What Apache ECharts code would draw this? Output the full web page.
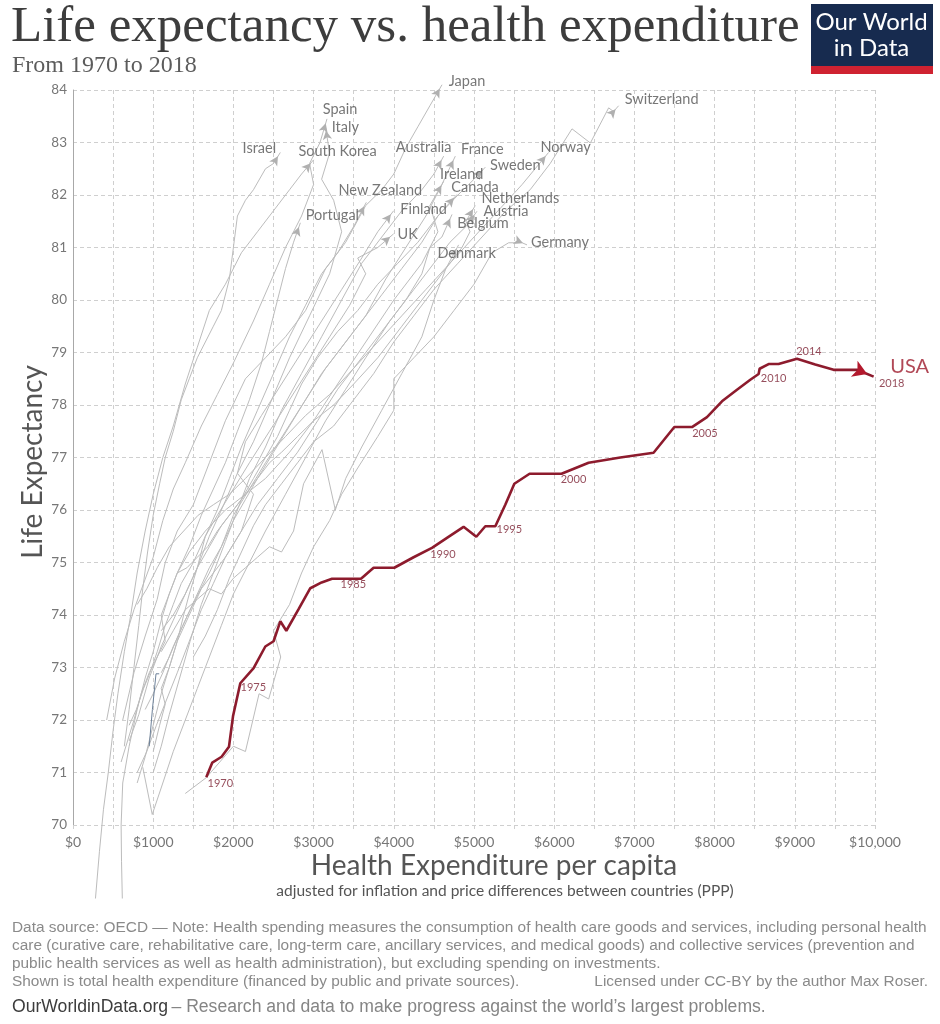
<!DOCTYPE html>
<html>
<head>
  <meta charset="UTF-8">
  <title>Life expectancy vs. health expenditure</title>
  <script src="https://cdn.jsdelivr.net/npm/echarts@6/dist/echarts.min.js"></script>
  <style>
    body { margin: 0; padding: 0; background: #fff; }
    #chart { width: 940px; height: 1024px; }
  </style>
</head>
<body>
  <div id="chart"></div>
  <script>
    // ---- data ----
    // USA, one point per year
    var usaYears = [1970, 1971, 1972, 1973, 1974, 1975, 1976, 1977, 1978, 1979, 1980, 1981, 1982, 1983, 1984, 1985, 1986, 1987, 1988, 1989,
      1990, 1991, 1992, 1993, 1994, 1995, 1996, 1997, 1998, 1999, 2000, 2001, 2002, 2003, 2004, 2005, 2006, 2007, 2008, 2009,
      2010, 2011, 2012, 2013, 2014, 2015, 2016, 2017, 2018];
    var usaSpend = [1662, 1737, 1853, 1945, 1995, 2086, 2252, 2398, 2501, 2585, 2660, 2813, 2959, 3100, 3230, 3333, 3591, 3748, 4006, 4247,
      4476, 4663, 4870, 5029, 5141, 5266, 5390, 5503, 5693, 5889, 6091, 6429, 6824, 7239, 7498, 7718, 7905, 8092, 8279, 8445,
      8549, 8561, 8673, 8798, 9027, 9255, 9484, 9776, 9983];
    var usaLife = [70.91, 71.19, 71.30, 71.49, 72.07, 72.70, 72.99, 73.40, 73.50, 73.88, 73.70, 74.11, 74.51, 74.62, 74.69, 74.69, 74.69, 74.90, 74.90, 75.10,
      75.28, 75.47, 75.68, 75.49, 75.69, 75.69, 76.10, 76.50, 76.69, 76.69, 76.69, 76.90, 77.00, 77.09, 77.58, 77.58, 77.77, 78.07, 78.29, 78.48,
      78.59, 78.69, 78.78, 78.78, 78.88, 78.77, 78.67, 78.67, 78.54];
    var usaLabelYears = [1970, 1975, 1985, 1990, 1995, 2000, 2005, 2010, 2014, 2018];

    // other OECD countries (spend in $, life expectancy in years)
    var japanX = [620, 760, 900, 1050, 1150, 1300, 1500, 1700, 1900, 2150, 2400, 2650, 2900, 3150, 3400, 3650, 3850, 4000, 4150, 4300, 4450, 4601];
    var japanY = [72.0, 72.9, 73.6, 74.3, 75.0, 75.6, 76.1, 76.9, 77.7, 78.5, 78.9, 79.3, 79.8, 80.6, 81.1, 81.8, 82.1, 82.4, 82.9, 83.3, 83.7, 84.1];
    var spainX = [420, 520, 640, 760, 880, 1000, 1120, 1250, 1400, 1600, 1800, 2000, 2250, 2450, 2650, 2850, 3000, 2950, 3080, 3167];
    var spainY = [72.0, 72.8, 73.5, 74.1, 74.6, 75.1, 75.8, 76.4, 76.9, 77.6, 78.2, 78.8, 79.6, 80.3, 81.0, 81.6, 82.2, 82.6, 83.0, 83.45];
    var italyX = [700, 820, 950, 1100, 1250, 1400, 1550, 1700, 1850, 2050, 2250, 2450, 2700, 2950, 3200, 3350, 3250, 3100, 3200, 3146];
    var italyY = [71.6, 72.1, 72.8, 73.4, 73.9, 74.4, 74.9, 75.5, 76.0, 76.7, 77.3, 78.0, 78.9, 79.7, 80.5, 81.3, 81.9, 82.3, 82.8, 83.31];
    var israelX = [640, 700, 760, 820, 870, 930, 1000, 1080, 1150, 1250, 1350, 1450, 1550, 1650, 1750, 1850, 1950, 2000, 2050, 2150, 2250, 2400, 2500, 2585];
    var israelY = [71.5, 72.2, 73.0, 73.8, 74.5, 75.2, 75.9, 76.5, 77.0, 77.5, 78.1, 78.5, 78.9, 79.2, 79.5, 79.8, 80.4, 81.0, 81.6, 81.9, 82.1, 82.5, 82.6, 82.81];
    var koreaX = [280, 330, 380, 440, 500, 560, 640, 720, 800, 900, 1000, 1120, 1250, 1400, 1550, 1700, 1900, 2100, 2300, 2500, 2700, 2850, 3000];
    var koreaY = [68.6, 69.5, 70.3, 71.0, 71.8, 72.5, 73.3, 74.0, 74.8, 75.6, 76.3, 77.0, 77.6, 78.4, 79.1, 79.8, 80.3, 80.9, 81.3, 81.7, 82.1, 82.4, 82.67];
    var portugalX = [615, 605, 600, 620, 700, 800, 900, 1000, 1100, 1200, 1300, 1450, 1600, 1750, 1900, 2050, 2200, 2350, 2450, 2550, 2650, 2750, 2835];
    var portugalY = [68.6, 69.3, 70.0, 70.8, 71.5, 72.2, 72.8, 73.3, 73.9, 74.4, 74.8, 75.3, 75.9, 76.4, 76.9, 77.5, 78.1, 78.8, 79.4, 80.0, 80.6, 81.1, 81.47];
    var newZealandX = [1000, 1080, 1150, 1100, 1200, 1300, 1380, 1450, 1550, 1650, 1800, 1950, 2100, 2300, 2500, 2700, 2900, 3100, 3300, 3500, 3657];
    var newZealandY = [71.4, 71.9, 72.3, 72.6, 73.0, 73.5, 74.0, 74.4, 74.9, 75.5, 76.0, 76.6, 77.2, 77.9, 78.6, 79.3, 79.9, 80.5, 80.9, 81.4, 81.86];
    var ukX = [700, 790, 880, 960, 1050, 1150, 1250, 1350, 1500, 1650, 1800, 2000, 2200, 2450, 2700, 2950, 3200, 3450, 3650, 3550, 3800, 3998];
    var ukY = [71.9, 72.2, 72.6, 72.9, 73.3, 73.8, 74.2, 74.6, 75.0, 75.5, 75.9, 76.4, 76.9, 77.5, 78.1, 78.7, 79.3, 79.9, 80.5, 80.8, 81.0, 81.26];
    var finlandX = [800, 900, 1000, 1100, 1200, 1300, 1450, 1600, 1750, 1900, 2100, 2250, 2050, 2150, 2350, 2600, 2850, 3100, 3350, 3600, 3800, 3998];
    var finlandY = [70.8, 71.3, 71.9, 72.5, 73.0, 73.5, 74.0, 74.5, 74.8, 75.1, 75.6, 76.3, 76.7, 77.3, 77.8, 78.4, 79.0, 79.6, 80.2, 80.8, 81.3, 81.70];
    var australiaX = [1000, 1100, 1200, 1330, 1460, 1600, 1750, 1900, 2050, 2200, 2400, 2600, 2850, 3100, 3350, 3600, 3850, 4100, 4350, 4500, 4622];
    var australiaY = [71.0, 71.5, 72.1, 72.8, 73.5, 74.2, 74.8, 75.4, 76.0, 76.6, 77.2, 77.9, 78.6, 79.3, 80.0, 80.7, 81.2, 81.7, 82.1, 82.4, 82.74];
    var franceX = [900, 1000, 1120, 1250, 1400, 1550, 1700, 1850, 2000, 2200, 2400, 2650, 2900, 3150, 3400, 3650, 3900, 4150, 4400, 4600, 4767];
    var franceY = [72.2, 72.5, 72.9, 73.4, 73.9, 74.4, 74.9, 75.3, 75.9, 76.4, 76.9, 77.5, 78.1, 78.7, 79.2, 79.7, 80.4, 81.0, 81.6, 82.2, 82.74];
    var irelandX = [600, 680, 760, 850, 950, 1050, 1150, 1100, 1200, 1300, 1450, 1650, 1900, 2150, 2400, 2700, 3000, 3300, 3650, 4000, 4350, 4550, 4450, 4622];
    var irelandY = [71.2, 71.6, 72.0, 72.5, 72.9, 73.2, 73.5, 74.0, 74.4, 74.8, 75.2, 75.6, 76.0, 76.3, 76.6, 77.1, 77.7, 78.4, 79.2, 80.0, 80.7, 81.3, 81.8, 82.26];
    var canadaX = [1100, 1200, 1310, 1430, 1560, 1700, 1850, 2000, 2150, 2300, 2500, 2700, 2900, 3100, 3350, 3600, 3850, 4100, 4350, 4550, 4788];
    var canadaY = [72.9, 73.2, 73.6, 74.0, 74.4, 74.8, 75.3, 75.8, 76.2, 76.6, 77.1, 77.6, 78.1, 78.6, 79.1, 79.6, 80.1, 80.6, 81.1, 81.6, 82.01];
    var swedenX = [1300, 1420, 1550, 1680, 1800, 1950, 2100, 2250, 2400, 2550, 2700, 2850, 3050, 3300, 3550, 3800, 4050, 4300, 4550, 4800, 5000, 5141];
    var swedenY = [74.8, 74.9, 75.1, 75.3, 75.6, 75.9, 76.2, 76.6, 77.0, 77.4, 77.9, 78.4, 78.9, 79.4, 79.8, 80.3, 80.7, 81.1, 81.6, 82.0, 82.3, 82.53];
    var norwayX = [800, 920, 1050, 1200, 1380, 1560, 1750, 1950, 2150, 2400, 2650, 2900, 3200, 3500, 3800, 4100, 4400, 4700, 5000, 5300, 5600, 5930];
    var norwayY = [74.2, 74.5, 74.9, 75.3, 75.6, 75.9, 76.1, 76.3, 76.6, 77.0, 77.4, 77.8, 78.2, 78.7, 79.2, 79.7, 80.2, 80.7, 81.2, 81.7, 82.2, 82.81];
    var switzerlandX = [1500, 1650, 1800, 1950, 2100, 2250, 2400, 2600, 2800, 3000, 3250, 3500, 3750, 4000, 4250, 4500, 4800, 5100, 5400, 5700, 5950, 6222, 6451, 6679, 6740, 6803];
    var switzerlandY = [73.2, 73.6, 74.1, 74.7, 75.2, 75.7, 76.1, 76.5, 76.9, 77.3, 77.6, 78.1, 78.6, 79.2, 79.7, 80.2, 80.7, 81.2, 81.7, 82.1, 82.6, 83.26, 82.99, 83.66, 83.59, 83.70];
    var netherlandsX = [1100, 1250, 1400, 1550, 1700, 1850, 2000, 2150, 2300, 2450, 2600, 2800, 3000, 3250, 3500, 3800, 4100, 4400, 4650, 4850, 4950, 4900, 5016];
    var netherlandsY = [73.7, 74.0, 74.4, 74.9, 75.3, 75.7, 76.0, 76.3, 76.6, 76.9, 77.1, 77.4, 77.7, 78.0, 78.4, 78.9, 79.5, 80.1, 80.6, 81.0, 81.3, 81.5, 81.80];
    var austriaX = [870, 988, 1120, 1250, 1400, 1550, 1700, 1850, 2000, 2200, 2400, 2650, 2900, 3150, 3400, 3650, 3950, 4250, 4500, 4700, 4900, 5037];
    var austriaY = [71.1, 70.2, 70.8, 71.4, 72.0, 72.6, 73.2, 73.8, 74.4, 75.0, 75.6, 76.3, 77.0, 77.7, 78.3, 78.9, 79.6, 80.2, 80.7, 81.1, 81.4, 81.69];
    var belgiumX = [800, 920, 1040, 1170, 1300, 1450, 1600, 1750, 1900, 2100, 2300, 2550, 2800, 3050, 3300, 3600, 3900, 4150, 4350, 4450, 4600, 4726];
    var belgiumY = [71.0, 71.4, 71.9, 72.4, 72.9, 73.5, 74.1, 74.6, 75.1, 75.6, 76.1, 76.6, 77.1, 77.7, 78.3, 78.9, 79.5, 80.0, 80.5, 81.0, 81.2, 81.63];
    var denmarkX = [1100, 1250, 1400, 1550, 1700, 1850, 2000, 2150, 2300, 2450, 2600, 2750, 2875, 3105, 3271, 3400, 3600, 3850, 4100, 4350, 4500, 4650, 4808];
    var denmarkY = [73.3, 73.7, 74.1, 74.3, 74.5, 74.4, 74.7, 74.9, 75.1, 75.3, 75.2, 75.6, 76.5, 77.15, 76.0, 76.6, 77.2, 77.9, 78.6, 79.3, 80.0, 80.6, 81.05];
    var germanyX = [1400, 1660, 2000, 2150, 2320, 2440, 2590, 2500, 2700, 2850, 3000, 3200, 3350, 3550, 3800, 4000, 4000, 4250, 4500, 4750, 5000, 5225, 5432, 5599, 5661];
    var germanyY = [70.6, 70.9, 71.5, 71.4, 72.5, 72.4, 73.2, 73.7, 74.2, 74.8, 75.3, 75.8, 76.3, 76.8, 77.4, 77.9, 78.5, 78.9, 79.3, 79.8, 80.3, 80.9, 81.09, 81.09, 81.05];
    var otherX = [950, 990, 1035, 1075];
    var otherY = [71.5, 72.2, 72.88, 72.88];

    var countries = [
      ['Japan', japanX, japanY], ['Spain', spainX, spainY], ['Italy', italyX, italyY],
      ['Israel', israelX, israelY], ['South Korea', koreaX, koreaY], ['Portugal', portugalX, portugalY],
      ['New Zealand', newZealandX, newZealandY], ['UK', ukX, ukY], ['Finland', finlandX, finlandY],
      ['Australia', australiaX, australiaY], ['France', franceX, franceY], ['Ireland', irelandX, irelandY],
      ['Canada', canadaX, canadaY], ['Sweden', swedenX, swedenY], ['Norway', norwayX, norwayY],
      ['Switzerland', switzerlandX, switzerlandY], ['Netherlands', netherlandsX, netherlandsY],
      ['Austria', austriaX, austriaY], ['Belgium', belgiumX, belgiumY], ['Denmark', denmarkX, denmarkY],
      ['Germany', germanyX, germanyY]
    ];

    // ---- styling ----
    var GREY = '#bcbcbc';
    var RED = '#8d1b2d';
    var FONT = 'Lato, "Noto Sans", sans-serif';

    // label centre relative to the arrow tip, in pixels
    var countryLabelOffset = {
      'Japan': [25, -3], 'Switzerland': [43, -6], 'Spain': [13, -10], 'Italy': [20, 1],
      'Israel': [-21, -4], 'South Korea': [24, -8], 'Australia': [-20, -9], 'France': [27, -7],
      'Ireland': [18, -7], 'Sweden': [30, -2], 'Norway': [17, -5], 'Canada': [18, -7],
      'New Zealand': [14, -12], 'Netherlands': [45, -7], 'Finland': [30, -1], 'Austria': [29, 0],
      'Portugal': [32, -7], 'Belgium': [31, 9], 'UK': [14, 0], 'Denmark': [8, 8], 'Germany': [33, -3]
    };
    var yearLabelOffset = {
      1970: [14, 6], 1975: [13, 4], 1985: [13, 6], 1990: [11, 7], 1995: [14, 3],
      2000: [12, 6], 2005: [13, 6], 2010: [15, 4], 2014: [12, -7], 2018: [18, 7]
    };

    var chart = echarts.init(document.getElementById('chart'), null, { renderer: 'canvas' });

    function pairs(xs, ys) {
      var out = [];
      for (var i = 0; i < xs.length; i++) out.push([xs[i], ys[i]]);
      return out;
    }

    // arrow head on the last point, pointing along the last segment
    function arrowItem(xs, ys, size, color) {
      var n = xs.length;
      var item = { value: [xs[n - 1], ys[n - 1]], symbol: 'arrow', symbolSize: size, itemStyle: { color: color } };
      if (chart.getModel && chart.getModel()) {
        var a = chart.convertToPixel({ gridIndex: 0 }, [xs[n - 2], ys[n - 2]]);
        var b = chart.convertToPixel({ gridIndex: 0 }, [xs[n - 1], ys[n - 1]]);
        if (a && b) {
          var dx = b[0] - a[0], dy = b[1] - a[1];
          var len = Math.sqrt(dx * dx + dy * dy) || 1;
          item.symbolRotate = Math.atan2(-dy, dx) * 180 / Math.PI - 90;
          item.symbolOffset = [-dx / len * size[1] / 2, -dy / len * size[1] / 2];
        }
      }
      return item;
    }

    function buildSeries() {
      var series = [];
      countries.forEach(function (c) {
        var data = pairs(c[1], c[2]);
        data[data.length - 1] = arrowItem(c[1], c[2], [7, 9], '#b0b0b0');
        series.push({
          type: 'line', name: c[0], data: data, symbol: 'none', clip: false, silent: true, z: 2,
          lineStyle: { color: GREY, width: 1 }
        });
      });
      series.push({
        type: 'line', name: 'other', data: pairs(otherX, otherY), symbol: 'none', clip: false, silent: true, z: 2,
        lineStyle: { color: '#6d8199', width: 1 }
      });

      var usaData = pairs(usaSpend, usaLife);
      usaData[usaData.length - 1] = arrowItem(usaSpend, usaLife, [13, 14], '#b3192d');
      series.push({
        type: 'line', name: 'USA', data: usaData, symbol: 'none', clip: false, silent: true, z: 5,
        lineStyle: { color: RED, width: 2.6 }
      });

      // country names at the line ends
      var nameData = countries.map(function (c) {
        var n = c[1].length;
        return {
          value: [c[1][n - 1], c[2][n - 1]],
          label: { formatter: c[0], offset: countryLabelOffset[c[0]] }
        };
      });
      var nu = usaSpend.length;
      nameData.push({
        value: [usaSpend[nu - 1], usaLife[nu - 1]],
        label: { formatter: 'USA', offset: [36, -10], color: '#9d1a2c', fontSize: 20 }
      });
      series.push({
        type: 'scatter', data: nameData, symbolSize: 1, silent: true, clip: false, z: 6,
        itemStyle: { color: 'rgba(0,0,0,0)' },
        label: { show: true, position: 'inside', color: '#555', fontFamily: FONT, fontSize: 14.5 }
      });

      // USA year labels
      var yearData = usaLabelYears.map(function (y) {
        var i = usaYears.indexOf(y);
        return { value: [usaSpend[i], usaLife[i]], label: { formatter: String(y), offset: yearLabelOffset[y] } };
      });
      series.push({
        type: 'scatter', data: yearData, symbolSize: 1, silent: true, clip: false, z: 6,
        itemStyle: { color: 'rgba(0,0,0,0)' },
        label: { show: true, position: 'inside', color: '#7c2233', fontFamily: FONT, fontSize: 11 }
      });
      return series;
    }

    var footer = [
      'Data source: OECD \u2014 Note: Health spending measures the consumption of health care goods and services, including personal health',
      'care (curative care, rehabilitative care, long-term care, ancillary services, and medical goods) and collective services (prevention and',
      'public health services as well as health administration), but excluding spending on investments.',
      'Shown is total health expenditure (financed by public and private sources).'
    ];
    var FOOT_FONT = '15.4px "Liberation Sans", Arial, sans-serif';

    var graphics = [
      { type: 'text', left: 11, top: 2, style: { text: 'Life expectancy vs. health expenditure', font: '51px "Liberation Serif", "DejaVu Serif", serif', fill: '#3d3d3d' } },
      { type: 'text', left: 12, top: 54, style: { text: 'From 1970 to 2018', font: '24px "Liberation Serif", "DejaVu Serif", serif', fill: '#5c5c5c' } },
      { type: 'rect', shape: { x: 811, y: 4, width: 122, height: 70 }, style: { fill: '#172b4f' } },
      { type: 'rect', shape: { x: 811, y: 66, width: 122, height: 8 }, style: { fill: '#cf2231' } },
      { type: 'text', x: 871.5, y: 22, style: { text: 'Our World', font: '24px ' + FONT, fill: '#fff', textAlign: 'center', textVerticalAlign: 'middle' } },
      { type: 'text', x: 871.5, y: 48, style: { text: 'in Data', font: '24px ' + FONT, fill: '#fff', textAlign: 'center', textVerticalAlign: 'middle' } },
      { type: 'text', x: 33, y: 462, rotation: Math.PI / 2, style: { text: 'Life Expectancy', font: '28px ' + FONT, fill: '#555', textAlign: 'center', textVerticalAlign: 'middle' } },
      { type: 'text', x: 494, y: 866, style: { text: 'Health Expenditure per capita', font: '28px ' + FONT, fill: '#555', textAlign: 'center', textVerticalAlign: 'middle' } },
      { type: 'text', x: 505, y: 891, style: { text: 'adjusted for inflation and price differences between countries (PPP)', font: '15.5px ' + FONT, fill: '#555', textAlign: 'center', textVerticalAlign: 'middle' } },
      { type: 'text', x: 928, y: 982, style: { text: 'Licensed under CC-BY by the author Max Roser.', font: FOOT_FONT, fill: '#8a8a8a', textAlign: 'right', textVerticalAlign: 'middle' } },
      {
        type: 'text', x: 12, y: 1007, style: {
          text: '{a|OurWorldinData.org} {b|\u2013 Research and data to make progress against the world\u2019s largest problems.}',
          textVerticalAlign: 'middle',
          rich: {
            a: { fill: '#3c3c3c', fontSize: 17.6, fontFamily: '"Liberation Sans", Arial, sans-serif' },
            b: { fill: '#858585', fontSize: 17.6, fontFamily: '"Liberation Sans", Arial, sans-serif' }
          }
        }
      }
    ];
    footer.forEach(function (line, i) {
      graphics.push({ type: 'text', x: 12, y: 928 + i * 18, style: { text: line, font: FOOT_FONT, fill: '#8a8a8a', textVerticalAlign: 'middle' } });
    });

    var option = {
      animation: false,
      backgroundColor: '#fff',
      grid: { left: 73, right: 65, top: 90, bottom: 199 },
      xAxis: {
        type: 'value', min: 0, max: 10000, interval: 500,
        axisLine: { show: false },
        axisTick: { show: true, length: 5, lineStyle: { color: '#cfcfcf', type: 'dashed' } },
        axisLabel: {
          color: '#777', fontFamily: FONT, fontSize: 14, margin: 10,
          formatter: function (v) { if (v % 1000) return ''; return v === 10000 ? '$10,000' : '$' + v; }
        },
        splitLine: { show: true, lineStyle: { color: '#cfcfcf', type: [4, 3] } }
      },
      yAxis: {
        type: 'value', min: 70, max: 84, interval: 1,
        axisLine: { show: true, lineStyle: { color: '#a8a8a8' } },
        axisTick: { show: false },
        axisLabel: { color: '#777', fontFamily: FONT, fontSize: 13.5, margin: 6 },
        splitLine: { show: true, lineStyle: { color: '#cfcfcf', type: [4, 3] } }
      },
      graphic: graphics,
      series: buildSeries()
    };

    chart.setOption(option);
    // second pass: arrow heads need pixel directions from the axes
    chart.setOption({ series: buildSeries() });
  </script>
</body>
</html>
